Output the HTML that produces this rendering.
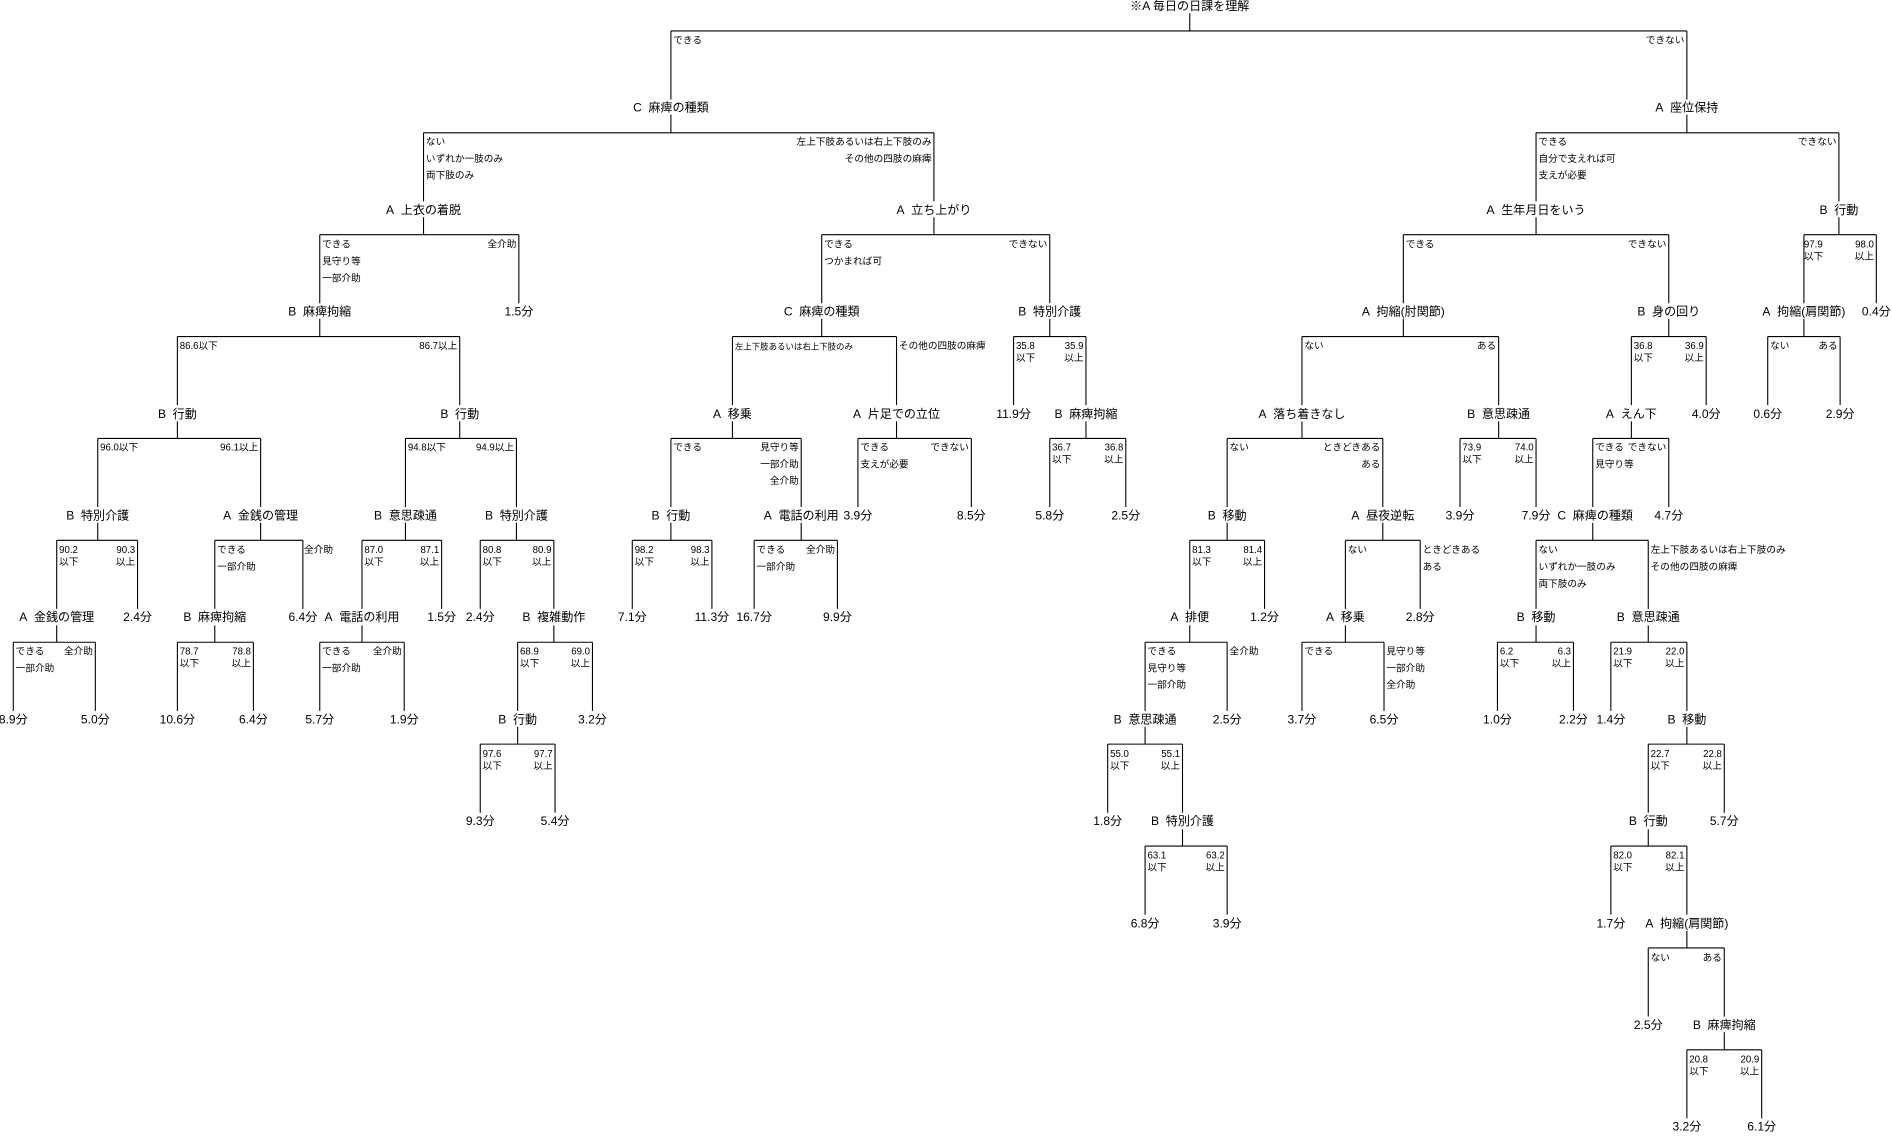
<!DOCTYPE html>
<html><head><meta charset="utf-8"><style>
html,body{margin:0;padding:0;background:#fff;}
svg{display:block;}
text{font-family:"Liberation Sans","Noto Sans CJK JP",sans-serif;fill:#000;dominant-baseline:central;}
.n{font-size:10px;text-anchor:middle;}
.l{font-size:8px;text-anchor:start;}
.r{font-size:8px;text-anchor:end;}
.s{font-size:7px;text-anchor:start;}
</style></head><body>
<svg width="1892" height="1136" viewBox="0 0 1568 941" preserveAspectRatio="none" xmlns="http://www.w3.org/2000/svg">
<g fill="none" stroke="#000" stroke-width="0.9">
<path d="M986 11V25.6M556 25.6H1398M556 25.6V82.4M1398 25.6V82.4"/>
<path d="M556 95V110M351 110H774M351 110V166.8M774 110V166.8"/>
<path d="M1398 95V110M1273 110H1524M1273 110V166.8M1524 110V166.8"/>
<path d="M351 180V194.4M265 194.4H430M265 194.4V251.2M430 194.4V251.2"/>
<path d="M774 180V194.4M681 194.4H870M681 194.4V251.2M870 194.4V251.2"/>
<path d="M1273 180V194.4M1163 194.4H1383M1163 194.4V251.2M1383 194.4V251.2"/>
<path d="M1524 180V194.4M1495 194.4H1555M1495 194.4V251.2M1555 194.4V251.2"/>
<path d="M265 264V278.8M147 278.8H381M147 278.8V335.6M381 278.8V335.6"/>
<path d="M681 264V278.8M607 278.8H743M607 278.8V335.6M743 278.8V335.6"/>
<path d="M870 264V278.8M840 278.8H900M840 278.8V335.6M900 278.8V335.6"/>
<path d="M1163 264V278.8M1079 278.8H1242M1079 278.8V335.6M1242 278.8V335.6"/>
<path d="M1383 264V278.8M1352 278.8H1414M1352 278.8V335.6M1414 278.8V335.6"/>
<path d="M1495 264V278.8M1465 278.8H1525M1465 278.8V335.6M1525 278.8V335.6"/>
<path d="M147 349V363.2M81 363.2H216M81 363.2V420M216 363.2V420"/>
<path d="M381 349V363.2M336 363.2H428M336 363.2V420M428 363.2V420"/>
<path d="M607 349V363.2M556 363.2H664M556 363.2V420M664 363.2V420"/>
<path d="M743 349V363.2M711 363.2H805M711 363.2V420M805 363.2V420"/>
<path d="M900 349V363.2M870 363.2H933M870 363.2V420M933 363.2V420"/>
<path d="M1079 349V363.2M1017 363.2H1146M1017 363.2V420M1146 363.2V420"/>
<path d="M1242 349V363.2M1210 363.2H1273M1210 363.2V420M1273 363.2V420"/>
<path d="M1352 349V363.2M1320 363.2H1383M1320 363.2V420M1383 363.2V420"/>
<path d="M81 433V447.6M47 447.6H114M47 447.6V504.4M114 447.6V504.4"/>
<path d="M216 433V447.6M178 447.6H251M178 447.6V504.4M251 447.6V504.4"/>
<path d="M336 433V447.6M300 447.6H366M300 447.6V504.4M366 447.6V504.4"/>
<path d="M428 433V447.6M398 447.6H459M398 447.6V504.4M459 447.6V504.4"/>
<path d="M556 433V447.6M524 447.6H590M524 447.6V504.4M590 447.6V504.4"/>
<path d="M664 433V447.6M625 447.6H694M625 447.6V504.4M694 447.6V504.4"/>
<path d="M1017 433V447.6M986 447.6H1048M986 447.6V504.4M1048 447.6V504.4"/>
<path d="M1146 433V447.6M1115 447.6H1177M1115 447.6V504.4M1177 447.6V504.4"/>
<path d="M1320 433V447.6M1273 447.6H1366M1273 447.6V504.4M1366 447.6V504.4"/>
<path d="M47 518V532M11 532H79M11 532V588.8M79 532V588.8"/>
<path d="M178 518V532M147 532H210M147 532V588.8M210 532V588.8"/>
<path d="M300 518V532M265 532H335M265 532V588.8M335 532V588.8"/>
<path d="M459 518V532M429 532H491M429 532V588.8M491 532V588.8"/>
<path d="M986 518V532M949 532H1017M949 532V588.8M1017 532V588.8"/>
<path d="M1115 518V532M1079 532H1147M1079 532V588.8M1147 532V588.8"/>
<path d="M1273 518V532M1241 532H1304M1241 532V588.8M1304 532V588.8"/>
<path d="M1366 518V532M1335 532H1398M1335 532V588.8M1398 532V588.8"/>
<path d="M429 602V616.4M398 616.4H460M398 616.4V673.2M460 616.4V673.2"/>
<path d="M949 602V616.4M918 616.4H980M918 616.4V673.2M980 616.4V673.2"/>
<path d="M1398 602V616.4M1366 616.4H1429M1366 616.4V673.2M1429 616.4V673.2"/>
<path d="M980 687V700.8M949 700.8H1017M949 700.8V757.6M1017 700.8V757.6"/>
<path d="M1366 687V700.8M1335 700.8H1398M1335 700.8V757.6M1398 700.8V757.6"/>
<path d="M1398 771V785.2M1366 785.2H1429M1366 785.2V842M1429 785.2V842"/>
<path d="M1429 855V869.6M1398 869.6H1460M1398 869.6V926.4M1460 869.6V926.4"/>
</g>
<g>
<text class="n" x="986" y="5">※A  毎日の日課を理解</text>
<text class="n" x="556" y="89">C&#160;&#160;麻痺の種類</text>
<text class="n" x="1398" y="89">A&#160;&#160;座位保持</text>
<text class="n" x="351" y="174">A&#160;&#160;上衣の着脱</text>
<text class="n" x="774" y="174">A&#160;&#160;立ち上がり</text>
<text class="n" x="1273" y="174">A&#160;&#160;生年月日をいう</text>
<text class="n" x="1524" y="174">B&#160;&#160;行動</text>
<text class="n" x="265" y="258">B&#160;&#160;麻痺拘縮</text>
<text class="n" x="430" y="258">1.5分</text>
<text class="n" x="681" y="258">C&#160;&#160;麻痺の種類</text>
<text class="n" x="870" y="258">B&#160;&#160;特別介護</text>
<text class="n" x="1163" y="258">A&#160;&#160;拘縮(肘関節)</text>
<text class="n" x="1383" y="258">B&#160;&#160;身の回り</text>
<text class="n" x="1495" y="258">A&#160;&#160;拘縮(肩関節)</text>
<text class="n" x="1555" y="258">0.4分</text>
<text class="n" x="147" y="343">B&#160;&#160;行動</text>
<text class="n" x="381" y="343">B&#160;&#160;行動</text>
<text class="n" x="607" y="343">A&#160;&#160;移乗</text>
<text class="n" x="743" y="343">A&#160;&#160;片足での立位</text>
<text class="n" x="840" y="343">11.9分</text>
<text class="n" x="900" y="343">B&#160;&#160;麻痺拘縮</text>
<text class="n" x="1079" y="343">A&#160;&#160;落ち着きなし</text>
<text class="n" x="1242" y="343">B&#160;&#160;意思疎通</text>
<text class="n" x="1352" y="343">A&#160;&#160;えん下</text>
<text class="n" x="1414" y="343">4.0分</text>
<text class="n" x="1465" y="343">0.6分</text>
<text class="n" x="1525" y="343">2.9分</text>
<text class="n" x="81" y="427">B&#160;&#160;特別介護</text>
<text class="n" x="216" y="427">A&#160;&#160;金銭の管理</text>
<text class="n" x="336" y="427">B&#160;&#160;意思疎通</text>
<text class="n" x="428" y="427">B&#160;&#160;特別介護</text>
<text class="n" x="556" y="427">B&#160;&#160;行動</text>
<text class="n" x="664" y="427">A&#160;&#160;電話の利用</text>
<text class="n" x="711" y="427">3.9分</text>
<text class="n" x="805" y="427">8.5分</text>
<text class="n" x="870" y="427">5.8分</text>
<text class="n" x="933" y="427">2.5分</text>
<text class="n" x="1017" y="427">B&#160;&#160;移動</text>
<text class="n" x="1146" y="427">A&#160;&#160;昼夜逆転</text>
<text class="n" x="1210" y="427">3.9分</text>
<text class="n" x="1273" y="427">7.9分</text>
<text class="n" x="1322" y="427">C&#160;&#160;麻痺の種類</text>
<text class="n" x="1383" y="427">4.7分</text>
<text class="n" x="47" y="511">A&#160;&#160;金銭の管理</text>
<text class="n" x="114" y="511">2.4分</text>
<text class="n" x="178" y="511">B&#160;&#160;麻痺拘縮</text>
<text class="n" x="251" y="511">6.4分</text>
<text class="n" x="300" y="511">A&#160;&#160;電話の利用</text>
<text class="n" x="366" y="511">1.5分</text>
<text class="n" x="398" y="511">2.4分</text>
<text class="n" x="459" y="511">B&#160;&#160;複雑動作</text>
<text class="n" x="524" y="511">7.1分</text>
<text class="n" x="590" y="511">11.3分</text>
<text class="n" x="625" y="511">16.7分</text>
<text class="n" x="694" y="511">9.9分</text>
<text class="n" x="986" y="511">A&#160;&#160;排便</text>
<text class="n" x="1048" y="511">1.2分</text>
<text class="n" x="1115" y="511">A&#160;&#160;移乗</text>
<text class="n" x="1177" y="511">2.8分</text>
<text class="n" x="1273" y="511">B&#160;&#160;移動</text>
<text class="n" x="1366" y="511">B&#160;&#160;意思疎通</text>
<text class="n" x="11" y="596">8.9分</text>
<text class="n" x="79" y="596">5.0分</text>
<text class="n" x="147" y="596">10.6分</text>
<text class="n" x="210" y="596">6.4分</text>
<text class="n" x="265" y="596">5.7分</text>
<text class="n" x="335" y="596">1.9分</text>
<text class="n" x="429" y="596">B&#160;&#160;行動</text>
<text class="n" x="491" y="596">3.2分</text>
<text class="n" x="949" y="596">B&#160;&#160;意思疎通</text>
<text class="n" x="1017" y="596">2.5分</text>
<text class="n" x="1079" y="596">3.7分</text>
<text class="n" x="1147" y="596">6.5分</text>
<text class="n" x="1241" y="596">1.0分</text>
<text class="n" x="1304" y="596">2.2分</text>
<text class="n" x="1335" y="596">1.4分</text>
<text class="n" x="1398" y="596">B&#160;&#160;移動</text>
<text class="n" x="398" y="680">9.3分</text>
<text class="n" x="460" y="680">5.4分</text>
<text class="n" x="918" y="680">1.8分</text>
<text class="n" x="980" y="680">B&#160;&#160;特別介護</text>
<text class="n" x="1366" y="680">B&#160;&#160;行動</text>
<text class="n" x="1429" y="680">5.7分</text>
<text class="n" x="949" y="765">6.8分</text>
<text class="n" x="1017" y="765">3.9分</text>
<text class="n" x="1335" y="765">1.7分</text>
<text class="n" x="1398" y="765">A&#160;&#160;拘縮(肩関節)</text>
<text class="n" x="1366" y="849">2.5分</text>
<text class="n" x="1429" y="849">B&#160;&#160;麻痺拘縮</text>
<text class="n" x="1398" y="933">3.2分</text>
<text class="n" x="1460" y="933">6.1分</text>
</g>
<g>
<text class="l" x="558" y="34">できる</text>
<text class="r" x="1396" y="34">できない</text>
<text class="l" x="353" y="118">ない</text>
<text class="l" x="353" y="132">いずれか一肢のみ</text>
<text class="l" x="353" y="146">両下肢のみ</text>
<text class="r" x="772" y="118">左上下肢あるいは右上下肢のみ</text>
<text class="r" x="772" y="132">その他の四肢の麻痺</text>
<text class="l" x="1275" y="118">できる</text>
<text class="l" x="1275" y="132">自分で支えれば可</text>
<text class="l" x="1275" y="146">支えが必要</text>
<text class="r" x="1522" y="118">できない</text>
<text class="l" x="267" y="203">できる</text>
<text class="l" x="267" y="217">見守り等</text>
<text class="l" x="267" y="231">一部介助</text>
<text class="r" x="428" y="203">全介助</text>
<text class="l" x="683" y="203">できる</text>
<text class="l" x="683" y="217">つかまれば可</text>
<text class="r" x="868" y="203">できない</text>
<text class="l" x="1165" y="203">できる</text>
<text class="r" x="1381" y="203">できない</text>
<text class="l" x="1495" y="203">97.9</text>
<text class="l" x="1495" y="213">以下</text>
<text class="r" x="1553" y="203">98.0</text>
<text class="r" x="1553" y="213">以上</text>
<text class="l" x="149" y="287">86.6以下</text>
<text class="r" x="379" y="287">86.7以上</text>
<text class="s" x="609" y="287">左上下肢あるいは右上下肢のみ</text>
<text class="l" x="745" y="287">その他の四肢の麻痺</text>
<text class="l" x="842" y="287">35.8</text>
<text class="l" x="842" y="297">以下</text>
<text class="r" x="898" y="287">35.9</text>
<text class="r" x="898" y="297">以上</text>
<text class="l" x="1081" y="287">ない</text>
<text class="r" x="1240" y="287">ある</text>
<text class="l" x="1354" y="287">36.8</text>
<text class="l" x="1354" y="297">以下</text>
<text class="r" x="1412" y="287">36.9</text>
<text class="r" x="1412" y="297">以上</text>
<text class="l" x="1467" y="287">ない</text>
<text class="r" x="1523" y="287">ある</text>
<text class="l" x="83" y="371">96.0以下</text>
<text class="r" x="214" y="371">96.1以上</text>
<text class="l" x="338" y="371">94.8以下</text>
<text class="r" x="426" y="371">94.9以上</text>
<text class="l" x="558" y="371">できる</text>
<text class="r" x="662" y="371">見守り等</text>
<text class="r" x="662" y="385">一部介助</text>
<text class="r" x="662" y="399">全介助</text>
<text class="l" x="713" y="371">できる</text>
<text class="l" x="713" y="385">支えが必要</text>
<text class="r" x="803" y="371">できない</text>
<text class="l" x="872" y="371">36.7</text>
<text class="l" x="872" y="381">以下</text>
<text class="r" x="931" y="371">36.8</text>
<text class="r" x="931" y="381">以上</text>
<text class="l" x="1019" y="371">ない</text>
<text class="r" x="1144" y="371">ときどきある</text>
<text class="r" x="1144" y="385">ある</text>
<text class="l" x="1212" y="371">73.9</text>
<text class="l" x="1212" y="381">以下</text>
<text class="r" x="1271" y="371">74.0</text>
<text class="r" x="1271" y="381">以上</text>
<text class="l" x="1322" y="371">できる</text>
<text class="l" x="1322" y="385">見守り等</text>
<text class="r" x="1381" y="371">できない</text>
<text class="l" x="49" y="456">90.2</text>
<text class="l" x="49" y="466">以下</text>
<text class="r" x="112" y="456">90.3</text>
<text class="r" x="112" y="466">以上</text>
<text class="l" x="180" y="456">できる</text>
<text class="l" x="180" y="470">一部介助</text>
<text class="r" x="276" y="456">全介助</text>
<text class="l" x="302" y="456">87.0</text>
<text class="l" x="302" y="466">以下</text>
<text class="r" x="364" y="456">87.1</text>
<text class="r" x="364" y="466">以上</text>
<text class="l" x="400" y="456">80.8</text>
<text class="l" x="400" y="466">以下</text>
<text class="r" x="457" y="456">80.9</text>
<text class="r" x="457" y="466">以上</text>
<text class="l" x="526" y="456">98.2</text>
<text class="l" x="526" y="466">以下</text>
<text class="r" x="588" y="456">98.3</text>
<text class="r" x="588" y="466">以上</text>
<text class="l" x="627" y="456">できる</text>
<text class="l" x="627" y="470">一部介助</text>
<text class="r" x="692" y="456">全介助</text>
<text class="l" x="988" y="456">81.3</text>
<text class="l" x="988" y="466">以下</text>
<text class="r" x="1046" y="456">81.4</text>
<text class="r" x="1046" y="466">以上</text>
<text class="l" x="1117" y="456">ない</text>
<text class="l" x="1179" y="456">ときどきある</text>
<text class="l" x="1179" y="470">ある</text>
<text class="l" x="1275" y="456">ない</text>
<text class="l" x="1275" y="470">いずれか一肢のみ</text>
<text class="l" x="1275" y="484">両下肢のみ</text>
<text class="l" x="1368" y="456">左上下肢あるいは右上下肢のみ</text>
<text class="l" x="1368" y="470">その他の四肢の麻痺</text>
<text class="l" x="13" y="540">できる</text>
<text class="l" x="13" y="554">一部介助</text>
<text class="r" x="77" y="540">全介助</text>
<text class="l" x="149" y="540">78.7</text>
<text class="l" x="149" y="550">以下</text>
<text class="r" x="208" y="540">78.8</text>
<text class="r" x="208" y="550">以上</text>
<text class="l" x="267" y="540">できる</text>
<text class="l" x="267" y="554">一部介助</text>
<text class="r" x="333" y="540">全介助</text>
<text class="l" x="431" y="540">68.9</text>
<text class="l" x="431" y="550">以下</text>
<text class="r" x="489" y="540">69.0</text>
<text class="r" x="489" y="550">以上</text>
<text class="l" x="951" y="540">できる</text>
<text class="l" x="951" y="554">見守り等</text>
<text class="l" x="951" y="568">一部介助</text>
<text class="l" x="1019" y="540">全介助</text>
<text class="l" x="1081" y="540">できる</text>
<text class="l" x="1149" y="540">見守り等</text>
<text class="l" x="1149" y="554">一部介助</text>
<text class="l" x="1149" y="568">全介助</text>
<text class="l" x="1243" y="540">6.2</text>
<text class="l" x="1243" y="550">以下</text>
<text class="r" x="1302" y="540">6.3</text>
<text class="r" x="1302" y="550">以上</text>
<text class="l" x="1337" y="540">21.9</text>
<text class="l" x="1337" y="550">以下</text>
<text class="r" x="1396" y="540">22.0</text>
<text class="r" x="1396" y="550">以上</text>
<text class="l" x="400" y="625">97.6</text>
<text class="l" x="400" y="635">以下</text>
<text class="r" x="458" y="625">97.7</text>
<text class="r" x="458" y="635">以上</text>
<text class="l" x="920" y="625">55.0</text>
<text class="l" x="920" y="635">以下</text>
<text class="r" x="978" y="625">55.1</text>
<text class="r" x="978" y="635">以上</text>
<text class="l" x="1368" y="625">22.7</text>
<text class="l" x="1368" y="635">以下</text>
<text class="r" x="1427" y="625">22.8</text>
<text class="r" x="1427" y="635">以上</text>
<text class="l" x="951" y="709">63.1</text>
<text class="l" x="951" y="719">以下</text>
<text class="r" x="1015" y="709">63.2</text>
<text class="r" x="1015" y="719">以上</text>
<text class="l" x="1337" y="709">82.0</text>
<text class="l" x="1337" y="719">以下</text>
<text class="r" x="1396" y="709">82.1</text>
<text class="r" x="1396" y="719">以上</text>
<text class="l" x="1368" y="794">ない</text>
<text class="r" x="1427" y="794">ある</text>
<text class="l" x="1400" y="878">20.8</text>
<text class="l" x="1400" y="888">以下</text>
<text class="r" x="1458" y="878">20.9</text>
<text class="r" x="1458" y="888">以上</text>
</g>
</svg>
</body></html>
